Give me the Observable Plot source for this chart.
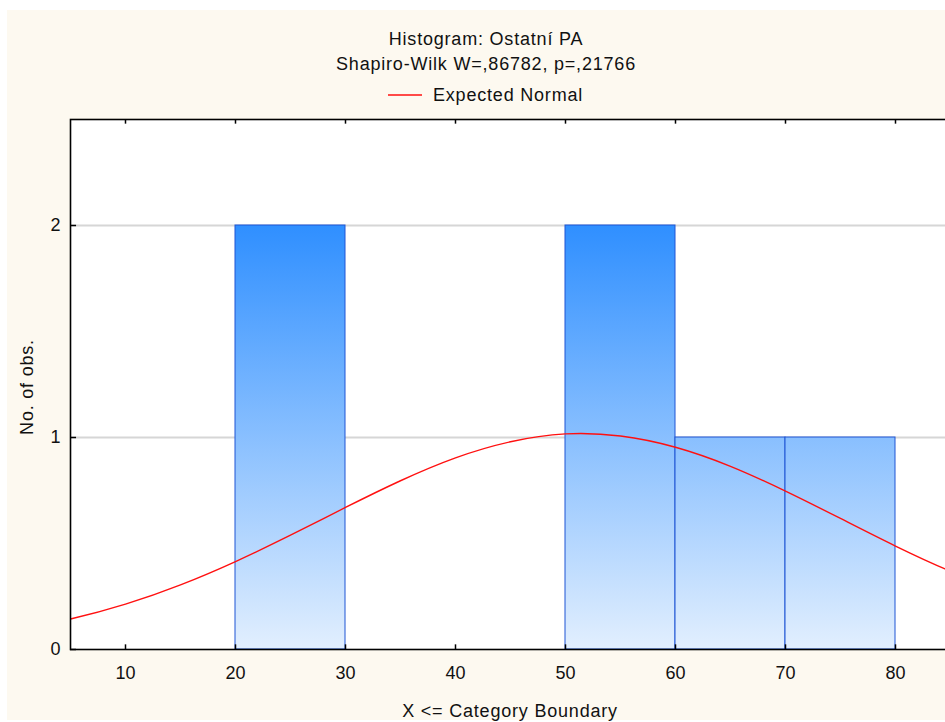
<!DOCTYPE html>
<html><head><meta charset="utf-8">
<script src="https://cdn.jsdelivr.net/npm/d3@7"></script>
<script src="https://cdn.jsdelivr.net/npm/@observablehq/plot@0.6"></script>
<style>
html,body{margin:0;padding:0;overflow:hidden;background:#fff;width:945px;height:722px}
#bg{position:absolute;left:7px;top:10px;width:938px;height:710px;background:#fdf9f0}
#chart{position:absolute;left:0;top:0;width:950px;height:722px}
</style></head><body><div id="bg"></div><div id="chart"></div>
<script>
// Histogram bins (category boundaries) and counts
const binStart = [20, 50, 60, 70];
const binEnd   = [30, 60, 70, 80];
const binCount = [2, 2, 1, 1];

// Expected normal curve
const curveX = [0, 5, 10, 15, 20, 25, 30, 35, 40, 45, 50, 55, 60, 65, 70, 75, 80, 85, 90];
const curveY = [0.092, 0.144, 0.214, 0.305, 0.415, 0.539, 0.670, 0.796, 0.904, 0.980, 1.017, 1.007, 0.954, 0.864, 0.747, 0.618, 0.488, 0.369, 0.266];

const xTicks = [10, 20, 30, 40, 50, 60, 70, 80];
const yTicks = [0, 1, 2];
const gridValues = [1, 2];

const titleText = "Histogram: Ostatní PA";
const subtitleText = "Shapiro-Wilk W=,86782, p=,21766";
const legendText = "Expected Normal";
const xLabel = "X <= Category Boundary";
const yLabel = "No. of obs.";

const bins = binStart.map((s, i) => ({x0: s, x1: binEnd[i], count: binCount[i]}));
const curve = curveX.map((x, i) => ({x, y: curveY[i]}));

const FONT = "'Liberation Sans', Arial, sans-serif";

const svg = Plot.plot({
  width: 950,
  height: 722,
  marginTop: 119,
  marginBottom: 73,
  marginLeft: 70,
  marginRight: 0,
  style: {fontSize: "18px", fontFamily: FONT, background: "transparent", color: "#111", overflow: "visible", maxWidth: "none"},
  x: {domain: [5, 85]},
  y: {domain: [0, 2.5]},
  marks: [
    Plot.frame({fill: "#fff", stroke: null}),
    Plot.ruleY(gridValues, {stroke: "#d6d6d6", strokeWidth: 2}),
    Plot.rectY(bins, {x1: "x0", x2: "x1", y1: 0, y2: "count", fill: "url(#barGrad)", stroke: "#1f55d4", strokeWidth: 1, inset: 0}),
    Plot.line(curve, {x: "x", y: "y", stroke: "#ff1010", strokeWidth: 1.4, curve: "natural", clip: true}),
    Plot.ruleX(xTicks, {y1: 0, y2: 0.022, stroke: "#000", strokeWidth: 1.5}),
    Plot.ruleX(xTicks, {y1: 2.5, y2: 2.478, stroke: "#000", strokeWidth: 1.5}),
    Plot.ruleY(yTicks, {x1: 5, x2: 5.55, stroke: "#000", strokeWidth: 1.5}),
    Plot.frame({stroke: "#000", strokeWidth: 1.6}),
    Plot.axisX({ticks: xTicks, tickSize: 0, tickPadding: 17, label: null, fill: "#111", fontSize: 18, tickFormat: "d"}),
    Plot.axisY({ticks: yTicks, tickSize: 0, tickPadding: 10, label: null, fill: "#111", fontSize: 18, tickFormat: "d"})
  ]
});
svg.style.maxWidth = "none";
svg.setAttribute("width", 950);
svg.setAttribute("height", 722);

const s = d3.select(svg);
const defs = s.insert("defs", ":first-child");
const g = defs.append("linearGradient")
  .attr("id", "barGrad")
  .attr("gradientUnits", "userSpaceOnUse")
  .attr("x1", 0).attr("x2", 0).attr("y1", 225).attr("y2", 649);
g.append("stop").attr("offset", "0%").attr("stop-color", "#2f8fff");
g.append("stop").attr("offset", "100%").attr("stop-color", "#e2effe");

const txt = (x, y, t, anchor) => s.append("text")
  .attr("x", x).attr("y", y)
  .attr("text-anchor", anchor || "middle")
  .attr("font-family", FONT).attr("font-size", 18)
  .attr("letter-spacing", "0.8px")
  .attr("fill", "#111")
  .text(t);

txt(486, 45, titleText);
txt(486, 70, subtitleText);
s.append("line").attr("x1", 388).attr("x2", 422).attr("y1", 95).attr("y2", 95)
  .attr("stroke", "#ff1010").attr("stroke-width", 1.5);
txt(433, 101, legendText, "start");
txt(510, 717, xLabel);
s.append("text")
  .attr("transform", "translate(33,387) rotate(-90)")
  .attr("text-anchor", "middle")
  .attr("font-family", FONT).attr("font-size", 18)
  .attr("letter-spacing", "0.8px")
  .attr("fill", "#111")
  .text(yLabel);

document.getElementById("chart").appendChild(svg);
</script>
</body></html>
